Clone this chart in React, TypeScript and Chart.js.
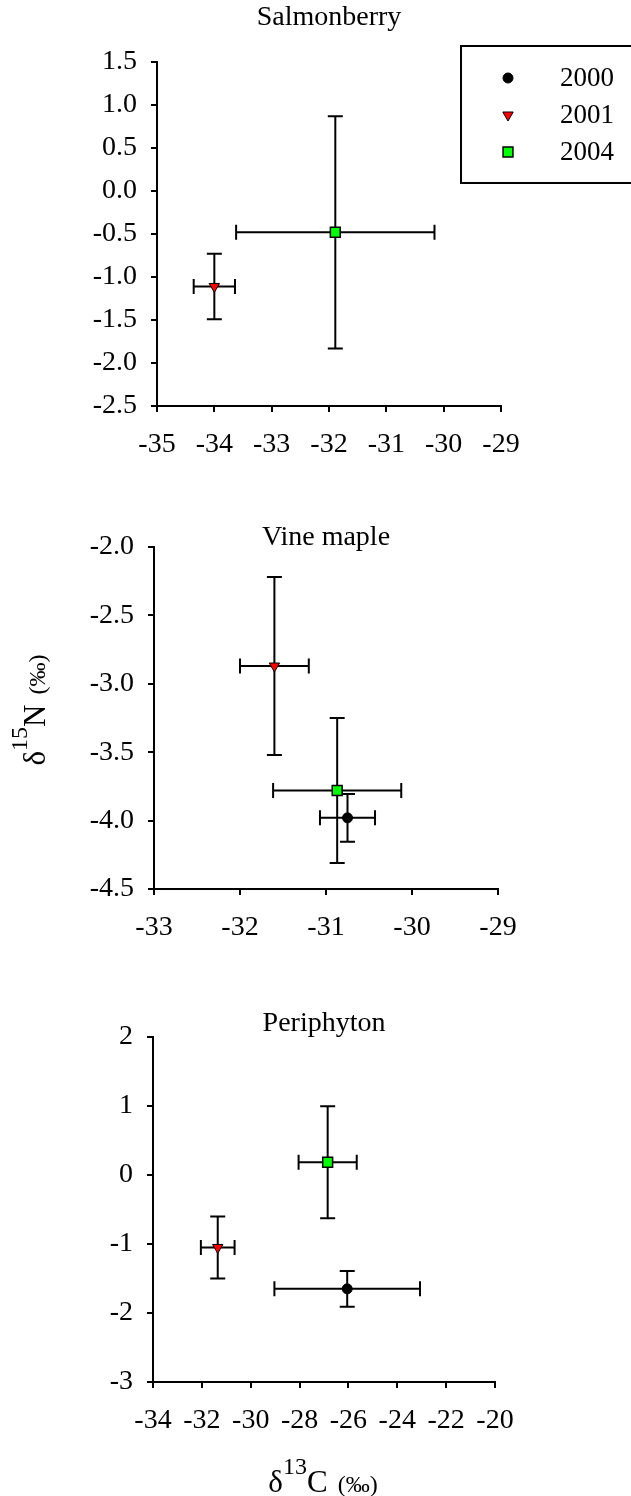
import React, { useEffect, useRef } from 'react';
import { Chart, registerables } from 'chart.js';

Chart.register(...registerables);

// ---------- data ----------
const years = ['2000', '2001', '2004'];

// Salmonberry (no 2000 sample)
const salmonberryC = [null, -34.0, -31.89];
const salmonberryN = [null, -1.11, -0.48];
const salmonberryCErr = [null, 0.36, 1.73];
const salmonberryNErr = [null, 0.38, 1.35];

// Vine maple
const vineMapleC = [-30.75, -31.6, -30.87];
const vineMapleN = [-3.98, -2.87, -3.78];
const vineMapleCErr = [0.32, 0.4, 0.745];
const vineMapleNErr = [0.175, 0.65, 0.53];

// Periphyton
const periphytonC = [-26.05, -31.35, -26.85];
const periphytonN = [-1.65, -1.05, 0.185];
const periphytonCErr = [2.98, 0.69, 1.19];
const periphytonNErr = [0.26, 0.45, 0.81];

// axis ranges / ticks [min, max, step]
const salmonberryXTicks = [-35, -29, 1];
const salmonberryYTicks = [-2.5, 1.5, 0.5];
const vineMapleXTicks = [-33, -29, 1];
const vineMapleYTicks = [-4.5, -2.0, 0.5];
const periphytonXTicks = [-34, -20, 2];
const periphytonYTicks = [-3, 2, 1];

const FONT = "'Liberation Serif', 'Times New Roman', serif";

const yearStyles: any[] = [
  { pointStyle: 'circle', radius: 5, rotation: 0, fill: '#000000', stroke: '#000000', bw: 1 },
  { pointStyle: 'triangle', radius: 6, rotation: 180, fill: '#ff0000', stroke: '#000000', bw: 1 },
  { pointStyle: 'rect', radius: 7, rotation: 0, fill: '#00ff00', stroke: '#000000', bw: 1.5 },
];

function drawMarker(ctx: CanvasRenderingContext2D, st: any, x: number, y: number) {
  ctx.save();
  ctx.fillStyle = st.fill;
  ctx.strokeStyle = st.stroke;
  ctx.lineWidth = st.bw;
  ctx.beginPath();
  const r = st.radius;
  if (st.pointStyle === 'circle') {
    ctx.arc(x, y, r, 0, Math.PI * 2);
  } else if (st.pointStyle === 'triangle') {
    const rad = (st.rotation * Math.PI) / 180;
    for (let k = 0; k < 3; k++) {
      const a = rad + (k * 2 * Math.PI) / 3;
      const px = x + Math.sin(a) * r;
      const py = y - Math.cos(a) * r;
      if (k === 0) ctx.moveTo(px, py);
      else ctx.lineTo(px, py);
    }
    ctx.closePath();
  } else {
    const s = r * Math.SQRT1_2;
    ctx.rect(x - s, y - s, 2 * s, 2 * s);
  }
  ctx.fill();
  ctx.stroke();
  ctx.restore();
}

function drawRich(
  ctx: CanvasRenderingContext2D,
  parts: { text: string; size: number; dy: number }[],
  cx: number,
  cy: number,
  rotate: boolean
) {
  ctx.save();
  ctx.translate(cx, cy);
  if (rotate) ctx.rotate(-Math.PI / 2);
  ctx.fillStyle = '#000';
  ctx.textBaseline = 'alphabetic';
  ctx.textAlign = 'left';
  let total = 0;
  const widths = parts.map((p) => {
    ctx.font = `${p.size}px ${FONT}`;
    const w = ctx.measureText(p.text).width;
    total += w;
    return w;
  });
  let x = -total / 2;
  parts.forEach((p, i) => {
    ctx.font = `${p.size}px ${FONT}`;
    ctx.fillText(p.text, x, p.dy);
    x += widths[i];
  });
  ctx.restore();
}

const errorBars = {
  id: 'errorBars',
  beforeDatasetsDraw(chart: any) {
    const { ctx } = chart;
    const xs = chart.scales.x;
    const ys = chart.scales.y;
    const cap = 7.5;
    ctx.save();
    ctx.strokeStyle = '#000';
    ctx.lineWidth = 2;
    chart.data.datasets.forEach((ds: any) => {
      ds.data.forEach((p: any) => {
        const cx = xs.getPixelForValue(p.x);
        const cy = ys.getPixelForValue(p.y);
        const x0 = xs.getPixelForValue(p.x - p.xErr);
        const x1 = xs.getPixelForValue(p.x + p.xErr);
        const y0 = ys.getPixelForValue(p.y - p.yErr);
        const y1 = ys.getPixelForValue(p.y + p.yErr);
        ctx.beginPath();
        ctx.moveTo(x0, cy);
        ctx.lineTo(x1, cy);
        ctx.moveTo(x0, cy - cap);
        ctx.lineTo(x0, cy + cap);
        ctx.moveTo(x1, cy - cap);
        ctx.lineTo(x1, cy + cap);
        ctx.moveTo(cx, y0);
        ctx.lineTo(cx, y1);
        ctx.moveTo(cx - cap, y0);
        ctx.lineTo(cx + cap, y0);
        ctx.moveTo(cx - cap, y1);
        ctx.lineTo(cx + cap, y1);
        ctx.stroke();
      });
    });
    ctx.restore();
  },
};

function isoLabel(sym: string, mass: string) {
  return [
    { text: 'δ', size: 31, dy: 0 },
    { text: mass, size: 24, dy: -18 },
    { text: sym, size: 31, dy: 0 },
    { text: '  ', size: 20, dy: 0 },
    { text: '(‰)', size: 24, dy: 0 },
  ];
}

const panelDecor = {
  id: 'panelDecor',
  afterDraw(chart: any, _args: any, opts: any) {
    const { ctx, chartArea } = chart;
    ctx.save();
    ctx.fillStyle = '#000';
    ctx.font = `28px ${FONT}`;
    ctx.textAlign = 'center';
    ctx.textBaseline = 'middle';
    ctx.fillText(opts.title, (chartArea.left + chartArea.right) / 2, opts.titleY);
    ctx.restore();

    if (opts.legend) {
      ctx.save();
      ctx.strokeStyle = '#000';
      ctx.lineWidth = 2;
      ctx.strokeRect(461, 46, 220, 137);
      const rows = [78, 115, 152];
      years.forEach((yr, i) => {
        drawMarker(ctx, yearStyles[i], 508, rows[i]);
        ctx.fillStyle = '#000';
        ctx.font = `27px ${FONT}`;
        ctx.textAlign = 'left';
        ctx.textBaseline = 'middle';
        ctx.fillText(yr, 560, rows[i] + 1);
      });
      ctx.restore();
    }
    if (opts.yLabel) {
      drawRich(ctx, isoLabel('N', '15'), opts.yLabel[0], opts.yLabel[1], true);
    }
    if (opts.xLabel) {
      drawRich(ctx, isoLabel('C', '13'), opts.xLabel[0], opts.xLabel[1], false);
    }
  },
};

function makeDatasets(c: any[], n: any[], cErr: any[], nErr: any[]) {
  const out: any[] = [];
  years.forEach((yr, i) => {
    if (c[i] === null) return;
    const st = yearStyles[i];
    out.push({
      label: yr,
      data: [{ x: c[i], y: n[i], xErr: cErr[i], yErr: nErr[i] }],
      pointStyle: st.pointStyle,
      pointRadius: st.radius,
      pointRotation: st.rotation,
      pointBackgroundColor: st.fill,
      pointBorderColor: st.stroke,
      pointBorderWidth: st.bw,
      showLine: false,
    });
  });
  return out;
}

function axis(range: number[], afterFit: (s: any) => void, extra: any, pad: number) {
  return {
    type: 'linear',
    min: range[0],
    max: range[1],
    ticks: {
      stepSize: range[2],
      color: '#000',
      font: { family: FONT, size: 28 },
      padding: pad,
      autoSkip: false,
      maxRotation: 0,
      ...extra,
    },
    grid: {
      drawOnChartArea: false,
      drawTicks: true,
      tickLength: 6,
      color: '#000',
      lineWidth: 2,
    },
    border: { display: true, color: '#000', width: 2 },
    afterFit,
  };
}

type PanelDef = {
  top: number;
  height: number;
  padTop: number;
  padRight: number;
  yWidth: number;
  xHeight: number;
  title: string;
  titleY: number;
  xr: number[];
  yr: number[];
  dec: number;
  datasets: any[];
  legend?: boolean;
  yLabel?: number[];
  xLabel?: number[];
};

const panels: PanelDef[] = [
  {
    top: 0,
    height: 480,
    padTop: 62,
    padRight: 130,
    yWidth: 157,
    xHeight: 74,
    title: 'Salmonberry',
    titleY: 18,
    xr: salmonberryXTicks,
    yr: salmonberryYTicks,
    dec: 1,
    datasets: makeDatasets(salmonberryC, salmonberryN, salmonberryCErr, salmonberryNErr),
    legend: true,
  },
  {
    top: 480,
    height: 480,
    padTop: 67,
    padRight: 133,
    yWidth: 154,
    xHeight: 71,
    title: 'Vine maple',
    titleY: 58,
    xr: vineMapleXTicks,
    yr: vineMapleYTicks,
    dec: 1,
    datasets: makeDatasets(vineMapleC, vineMapleN, vineMapleCErr, vineMapleNErr),
    yLabel: [45, 230],
  },
  {
    top: 960,
    height: 536,
    padTop: 77,
    padRight: 136,
    yWidth: 153,
    xHeight: 114,
    title: 'Periphyton',
    titleY: 64,
    xr: periphytonXTicks,
    yr: periphytonYTicks,
    dec: 0,
    datasets: makeDatasets(periphytonC, periphytonN, periphytonCErr, periphytonNErr),
    xLabel: [323, 532],
  },
];

function Panel({ def }: { def: PanelDef }) {
  const ref = useRef<HTMLCanvasElement>(null);
  useEffect(() => {
    const chart = new Chart(ref.current as HTMLCanvasElement, {
      type: 'scatter',
      data: { datasets: def.datasets },
      options: {
        animation: false,
        responsive: false,
        devicePixelRatio: 1,
        layout: { padding: { top: def.padTop, right: def.padRight, left: 0, bottom: 0 } },
        scales: {
          x: axis(def.xr, (s: any) => { s.height = def.xHeight; }, {}, 16) as any,
          y: axis(def.yr, (s: any) => { s.width = def.yWidth; }, {
            callback: (v: any) => Number(v).toFixed(def.dec),
          }, 14) as any,
        },
        plugins: {
          legend: { display: false },
          tooltip: { enabled: false },
          panelDecor: {
            title: def.title,
            titleY: def.titleY,
            legend: !!def.legend,
            yLabel: def.yLabel,
            xLabel: def.xLabel,
          },
        } as any,
      },
      plugins: [errorBars, panelDecor],
    });
    return () => chart.destroy();
  }, []);
  return (
    <canvas
      ref={ref}
      width={631}
      height={def.height}
      style={{ position: 'absolute', left: 0, top: def.top, width: 631, height: def.height, display: 'block' }}
    />
  );
}

export default function App() {
  return (
    <div style={{ position: 'absolute', left: 0, top: 0, width: 631, height: 1496, background: '#fff', overflow: 'hidden' }}>
      {panels.map((p, i) => (
        <Panel key={i} def={p} />
      ))}
    </div>
  );
}
